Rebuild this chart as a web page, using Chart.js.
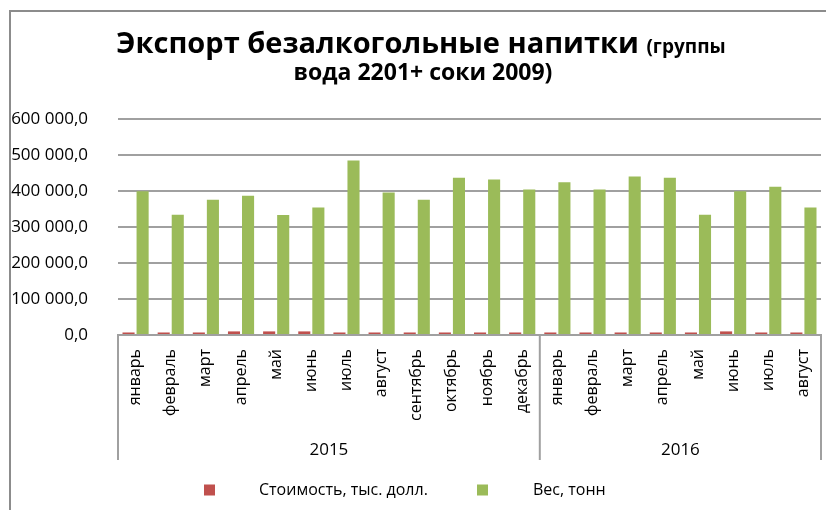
<!DOCTYPE html>
<html>
<head>
<meta charset="utf-8">
<script src="https://cdn.jsdelivr.net/npm/chart.js@4.4.1/dist/chart.umd.min.js"></script>
<style>
  html, body { margin: 0; padding: 0; background: #fff; overflow: hidden; }
  #frame { position: absolute; left: 9px; top: 10px; width: 1000px; height: 1000px; border: 2px solid #8c8c8c; }
  #wrap { position: absolute; left: 0; top: 0; width: 826px; height: 510px; }
</style>
</head>
<body>
<div id="frame"></div>
<div id="wrap"><canvas id="chart"></canvas></div>
<script>
// ---- данные ----
const months2015 = ['январь', 'февраль', 'март', 'апрель', 'май', 'июнь', 'июль', 'август', 'сентябрь', 'октябрь', 'ноябрь', 'декабрь'];
const months2016 = ['январь', 'февраль', 'март', 'апрель', 'май', 'июнь', 'июль', 'август'];
const years = ['2015', '2016'];
const yearSizes = [months2015.length, months2016.length];
const monthLabels = months2015.concat(months2016);

const costValues = [7000, 7000, 7000, 10000, 10000, 10000, 7000, 7000, 7000, 7000, 7000, 7000,
                    7000, 7000, 7000, 7000, 7000, 10000, 7000, 7000];
const weightValues = [399000, 334000, 376000, 387000, 333000, 354000, 485000, 396000, 376000, 437000, 432000, 404000,
                      424000, 404000, 440000, 437000, 334000, 399000, 412000, 354000];

const seriesNames = ['Стоимость, тыс. долл.', 'Вес, тонн'];
const seriesColors = ['#c0504d', '#9bbb59'];

const yMin = 0;
const yMax = 600000;
const yStep = 100000;

const titleMain = 'Экспорт безалкогольные напитки';
const titleSmall = '(группы';
const titleLine2 = 'вода 2201+ соки 2009)';

const FONT = '"Open Sans", sans-serif';
const GRID = '#a0a0a0';

// 600 000,0
function formatNum(v) {
  return String(v).replace(/\B(?=(\d{3})+(?!\d))/g, ' ') + ',0';
}

// заголовок в две строки, часть первой строки мельче
const titlePlugin = {
  id: 'excelTitle',
  afterDraw(chart) {
    const ctx = chart.ctx;
    const cx = 421;
    ctx.save();
    ctx.fillStyle = '#000';
    ctx.textBaseline = 'alphabetic';
    ctx.textAlign = 'left';
    ctx.font = 'bold 29px ' + FONT;
    const w1 = ctx.measureText(titleMain + ' ').width;
    ctx.font = 'bold 19px ' + FONT;
    const w2 = ctx.measureText(titleSmall).width;
    let x = cx - (w1 + w2) / 2;
    ctx.font = 'bold 29px ' + FONT;
    ctx.fillText(titleMain + ' ', x, 53);
    ctx.font = 'bold 19px ' + FONT;
    ctx.fillText(titleSmall, x + w1, 53);
    ctx.font = 'bold 23px ' + FONT;
    ctx.textAlign = 'center';
    ctx.fillText(titleLine2, cx + 2, 80);
    ctx.restore();
  }
};

// второй уровень оси: годы и разделители
const yearAxisPlugin = {
  id: 'yearAxis',
  afterDraw(chart) {
    const ctx = chart.ctx;
    const xs = chart.scales.x;
    const bottom = 460;
    ctx.save();
    ctx.strokeStyle = GRID;
    ctx.lineWidth = 2;
    ctx.fillStyle = '#000';
    ctx.font = '17px ' + FONT;
    ctx.textAlign = 'center';
    ctx.textBaseline = 'middle';
    let start = 0;
    const edges = [xs.getPixelForValue(-0.5)];
    years.forEach((yr, i) => {
      const end = start + yearSizes[i];
      const x0 = xs.getPixelForValue(start - 0.5);
      const x1 = xs.getPixelForValue(end - 0.5);
      edges.push(x1);
      ctx.fillText(yr, (x0 + x1) / 2, 450);
      start = end;
    });
    edges.forEach(x => {
      ctx.beginPath();
      ctx.moveTo(x, xs.top);
      ctx.lineTo(x, bottom);
      ctx.stroke();
    });
    ctx.restore();
  }
};

// легенда как в Excel
const legendPlugin = {
  id: 'excelLegend',
  afterDraw(chart) {
    const ctx = chart.ctx;
    const items = [{ box: 204, text: 259 }, { box: 477, text: 533 }];
    const cy = 490;
    ctx.save();
    ctx.font = '16px ' + FONT;
    ctx.textBaseline = 'middle';
    ctx.textAlign = 'left';
    chart.data.datasets.forEach((ds, i) => {
      ctx.fillStyle = ds.backgroundColor;
      ctx.fillRect(items[i].box, cy - 5.5, 11, 11);
      ctx.fillStyle = '#000';
      ctx.fillText(ds.label, items[i].text, cy);
    });
    ctx.restore();
  }
};

new Chart(document.getElementById('chart').getContext('2d'), {
  type: 'bar',
  data: {
    labels: monthLabels,
    datasets: [
      {
        label: seriesNames[0],
        data: costValues,
        backgroundColor: seriesColors[0],
        categoryPercentage: 0.8,
        barPercentage: 0.86,
      },
      {
        label: seriesNames[1],
        data: weightValues,
        backgroundColor: seriesColors[1],
        categoryPercentage: 0.8,
        barPercentage: 0.86,
      },
    ],
  },
  options: {
    responsive: true,
    maintainAspectRatio: false,
    animation: false,
    layout: { padding: { top: 119, right: 5, bottom: 0, left: 0 } },
    plugins: {
      legend: { display: false },
      title: { display: false },
      tooltip: { enabled: false },
    },
    scales: {
      x: {
        grid: { drawOnChartArea: false, drawTicks: false },
        border: { display: true, color: GRID, width: 2 },
        ticks: {
          minRotation: 90,
          maxRotation: 90,
          autoSkip: false,
          padding: 14,
          color: '#000',
          font: { family: FONT, size: 16 },
        },
        afterFit: scale => {
          scale.height = 175;
          scale.paddingLeft = 0;
          scale.paddingRight = 0;
        },
      },
      y: {
        min: yMin,
        max: yMax,
        grid: { color: GRID, lineWidth: 2, drawTicks: false },
        border: { display: false },
        ticks: {
          stepSize: yStep,
          padding: 30,
          color: '#000',
          font: { family: FONT, size: 17 },
          callback: v => formatNum(v),
        },
        afterFit: scale => { scale.width = 118; },
      },
    },
  },
  plugins: [titlePlugin, yearAxisPlugin, legendPlugin],
});
</script>
</body>
</html>
